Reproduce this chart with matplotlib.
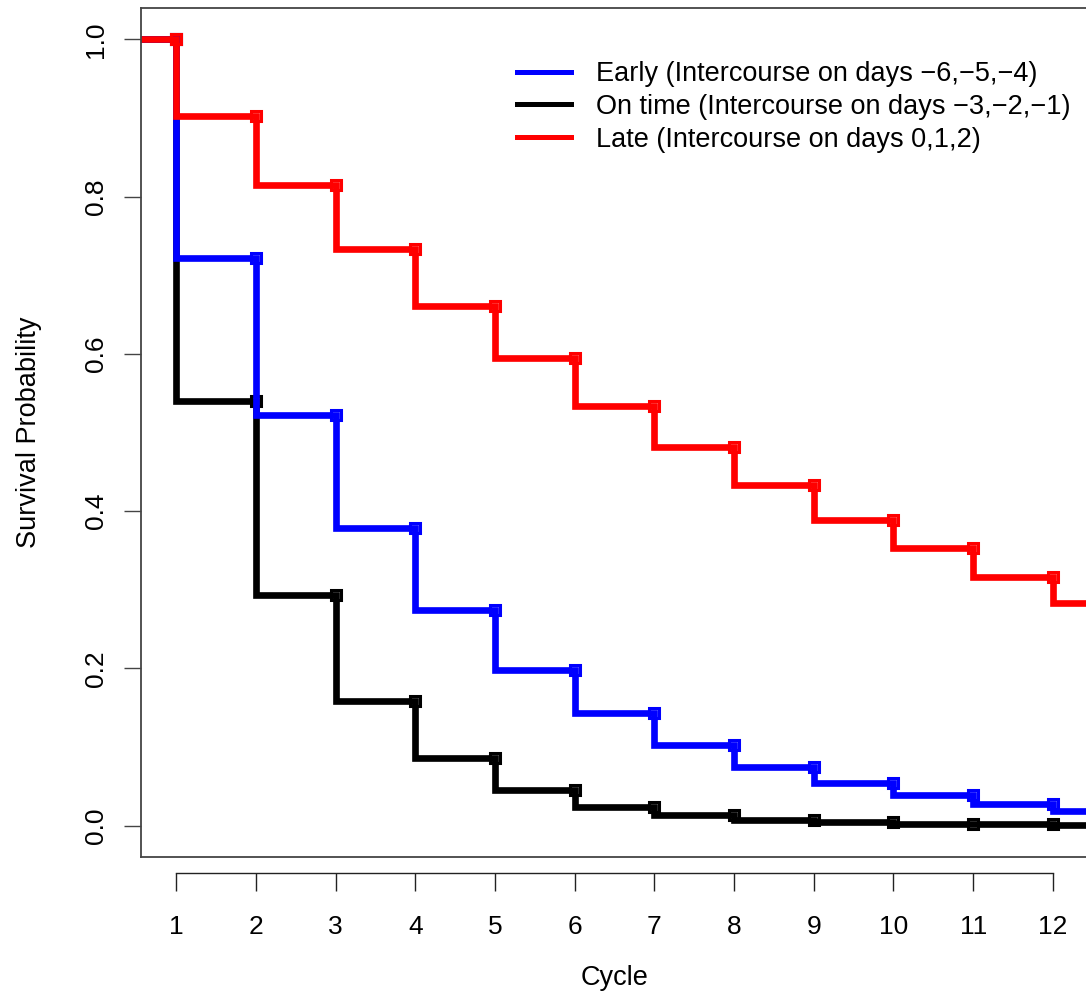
import matplotlib
matplotlib.use("Agg")
import matplotlib.pyplot as plt
from matplotlib.lines import Line2D

plt.rcParams["font.family"] = ["Liberation Sans", "DejaVu Sans"]

cycles = [1, 2, 3, 4, 5, 6, 7, 8, 9, 10, 11, 12]
# survival level after the drop at each cycle
early = [0.722, 0.522, 0.378, 0.274, 0.198, 0.143, 0.102, 0.075, 0.054, 0.039, 0.028, 0.018]
on_time = [0.540, 0.293, 0.158, 0.086, 0.045, 0.024, 0.013, 0.0065, 0.004, 0.0025, 0.0015, 0.001]
late = [0.903, 0.815, 0.734, 0.661, 0.595, 0.534, 0.482, 0.433, 0.389, 0.353, 0.316, 0.283]

labels = ["Early (Intercourse on days \u22126,\u22125,\u22124)",
          "On time (Intercourse on days \u22123,\u22122,\u22121)",
          "Late (Intercourse on days 0,1,2)"]
colors = ["#0000ff", "#000000", "#ff0000"]
y_ticks = [0.0, 0.2, 0.4, 0.6, 0.8, 1.0]

W, H = 1086, 991
fig = plt.figure(figsize=(W / 100, H / 100), dpi=100)
ax = fig.add_axes([141 / W, (H - 857) / H, 947 / W, 849 / H])

series = [early, on_time, late]
order = [1, 0, 2]  # black under blue under red
for i in order:
    s = series[i]
    xs = [0] + cycles + [cycles[-1] + 1]
    ys = [1.0] + s + [s[-1]]
    ax.step(xs, ys, where="post", color=colors[i], lw=4.8, solid_joinstyle="miter")
    ax.plot(cycles, [1.0] + s[:-1], ls="none", marker="s", ms=6.5,
            mfc="none", mec=colors[i], mew=2.2)

ax.set_xlim(0.56, 12.44)
ax.set_ylim(-0.04, 1.04)

# R-style detached x axis
ax.spines["bottom"].set_position(("outward", 11.5))
ax.spines["bottom"].set_bounds(1, 12)
ax.plot([0, 1], [0, 0], transform=ax.transAxes, color="#444444", lw=1.3, clip_on=False)
for side in ["left", "top", "right"]:
    ax.spines[side].set_color("#444444")
    ax.spines[side].set_linewidth(1.3)
ax.spines["bottom"].set_color("#222222")
ax.spines["bottom"].set_linewidth(1.0)

ax.set_xticks(cycles)
ax.set_xticklabels([str(c) for c in cycles])
ax.set_yticks(y_ticks)
ax.set_yticklabels(["%.1f" % v for v in y_ticks])
ax.tick_params(axis="x", length=13, width=1.0, pad=17, labelsize=19, color="#222222")
ax.tick_params(axis="y", length=12.5, width=1.0, pad=11, labelsize=19, color="#444444")
for lbl in ax.get_yticklabels():
    lbl.set_rotation(90)
    lbl.set_va("center")

ax.set_xlabel("Cycle", fontsize=19.5)
ax.xaxis.set_label_coords(0.5, -0.127)
ax.set_ylabel("Survival Probability", fontsize=19.5)
ax.yaxis.set_label_coords(-0.1045, 0.5)

handles = [Line2D([], [], color=c, lw=3.6) for c in colors]
ax.legend(handles, labels, loc="upper left", bbox_to_anchor=(517 / W, 1 - 61 / H),
          bbox_transform=fig.transFigure, frameon=False, fontsize=19.5,
          handlelength=2.0, handletextpad=0.9, labelspacing=0.25,
          borderpad=0, borderaxespad=0)

fig.savefig("out.png", dpi=100)
